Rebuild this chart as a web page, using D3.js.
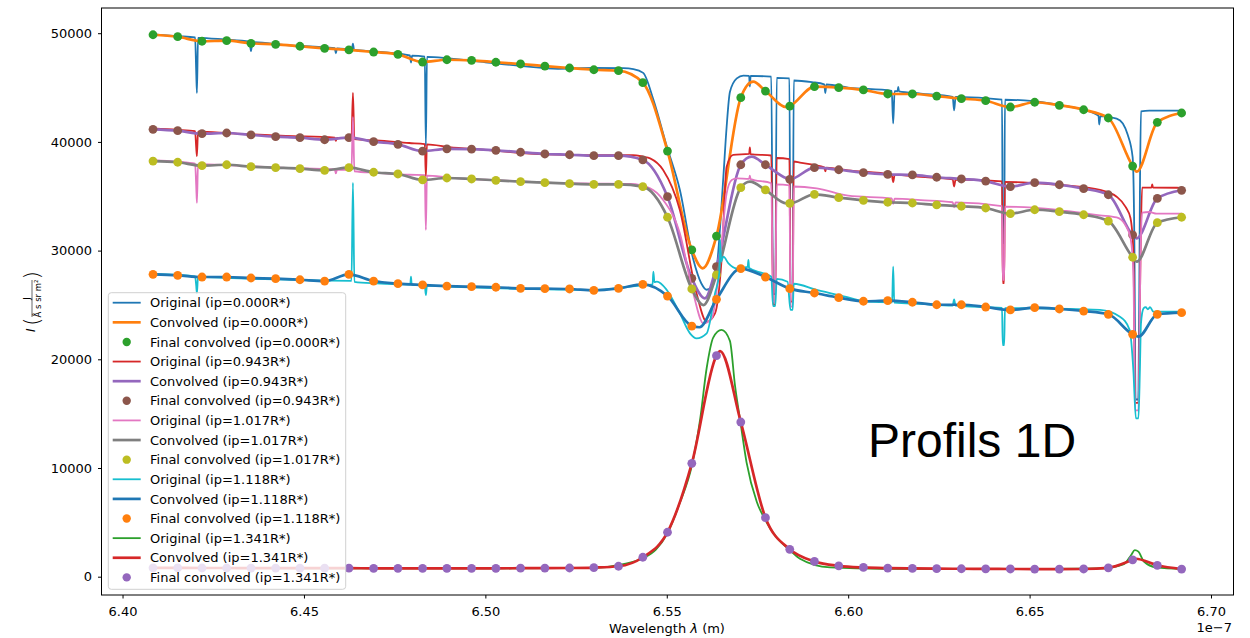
<!DOCTYPE html>
<html>
<head>
<meta charset="utf-8">
<script src="https://cdn.jsdelivr.net/npm/d3@7"></script>
<style>
  body { margin: 0; background: #fff; }
  text { font-family: "DejaVu Sans", sans-serif; }
</style>
</head>
<body>
<svg id="chart" width="1250" height="638"></svg>
<script>
// wavelength grid of the final convolved points (units of 1e-7 m)
const lam = [6.4084, 6.4152, 6.4219, 6.4287, 6.4354, 6.4422, 6.4489, 6.4557, 6.4624, 6.4692,
  6.4759, 6.4827, 6.4894, 6.4962, 6.5029, 6.5097, 6.5164, 6.5232, 6.5299, 6.5367,
  6.5434, 6.5502, 6.5569, 6.5637, 6.5704, 6.5772, 6.5839, 6.5907, 6.5974, 6.6042,
  6.6109, 6.6177, 6.6244, 6.6312, 6.6379, 6.6447, 6.6514, 6.6582, 6.6649, 6.6717,
  6.6784, 6.6852, 6.6919];

const ipValues = ['0.000', '0.943', '1.017', '1.118', '1.341'];

// final convolved values
const finalA = [49860, 49680, 49260, 49310, 49070, 48980, 48800, 48610, 48460, 48270, 48060, 47350, 47560, 47510, 47330, 47170, 46980, 46800, 46640, 46550, 45450, 39160, 30060, 31340, 44070, 44680, 43300, 45080, 44990, 44780, 44410, 44410, 44220, 43980, 43790, 43210, 43650, 43370, 42960, 42200, 37780, 41800, 42660];
const finalB = [41160, 41030, 40760, 40820, 40640, 40480, 40390, 40200, 40390, 40020, 39780, 39150, 39360, 39330, 39230, 39050, 38890, 38820, 38730, 38730, 38340, 34960, 27450, 28520, 37900, 37900, 36560, 37630, 37440, 37170, 37020, 36960, 36750, 36590, 36400, 35880, 36250, 36060, 35700, 35140, 31440, 34800, 35550];
const finalC = [38240, 38130, 37810, 37900, 37720, 37630, 37540, 37390, 37630, 37210, 37050, 36500, 36680, 36590, 36470, 36340, 36250, 36160, 36100, 36100, 35880, 33070, 26470, 27760, 35790, 35580, 34350, 35180, 34870, 34630, 34450, 34380, 34200, 34080, 33920, 33400, 33760, 33580, 33300, 32720, 29390, 32570, 33070];
const finalD = [27820, 27730, 27570, 27570, 27480, 27420, 27320, 27200, 27820, 27200, 26960, 26840, 26740, 26680, 26630, 26530, 26500, 26470, 26350, 26530, 26900, 25820, 23060, 25520, 28340, 27570, 26500, 26100, 25670, 25340, 25390, 25250, 25020, 25020, 24810, 24540, 24750, 24630, 24440, 24140, 22300, 24140, 24290];
const finalE = [820, 810, 800, 800, 790, 790, 780, 780, 780, 770, 770, 770, 770, 770, 770, 780, 790, 800, 840, 960, 1790, 4090, 10430, 20330, 14230, 5430, 2520, 1400, 1000, 850, 790, 760, 740, 730, 720, 710, 700, 700, 710, 820, 1550, 1050, 700];

// convolved curve: extra knots between the final points
const convExtraA = [[6.5599, 28370], [6.5738, 45540], [6.5830, 43200], [6.6795, 37260]];
const convExtraB = [[6.5605, 25610], [6.5734, 38640], [6.5830, 36650], [6.6795, 31130]];
const convExtraC = [[6.5601, 24990], [6.5729, 36340], [6.5830, 34350], [6.6795, 28980]];
const convExtraD = [[6.5590, 22950], [6.6800, 22080]];
const convExtraE = [[6.5647, 20760], [6.6792, 1650]];

// original profiles [wavelength, intensity]
const origA = [[6.4084, 49900], [6.4150, 49730], [6.4200, 49620], [6.4203, 46500], [6.4205, 44500], [6.4208, 49580],
  [6.4280, 49420], [6.4350, 49200], [6.4354, 48350], [6.4358, 49170], [6.4450, 48900], [6.4585, 48620], [6.4588, 48150], [6.4591, 48600],
  [6.4632, 48520], [6.4635, 49050], [6.4638, 48480], [6.4700, 48300], [6.4792, 47950], [6.4795, 47300], [6.4798, 47930],
  [6.4833, 47850], [6.4836, 39600], [6.4839, 47820], [6.4900, 47680], [6.5000, 47330], [6.5100, 46980], [6.5200, 46730],
  [6.5300, 46800], [6.5380, 46780], [6.5408, 46700], [6.5435, 46350], [6.5463, 43900], [6.5500, 39600], [6.5536, 35600],
  [6.5573, 29200], [6.5595, 27000], [6.5610, 26400], [6.5625, 26700], [6.5638, 28500], [6.5656, 36800], [6.5665, 41400],
  [6.5674, 44600], [6.5693, 45850], [6.5711, 46100], [6.5727, 46080], [6.5729, 45100], [6.5731, 46070], [6.5788, 46000],
  [6.5793, 26000], [6.5799, 26000], [6.5803, 45900], [6.5838, 45850], [6.5841, 26500], [6.5847, 26500], [6.5850, 45650],
  [6.5900, 45500], [6.5934, 45300], [6.5937, 44500], [6.5940, 45280], [6.6000, 45000], [6.6120, 44700], [6.6124, 41700],
  [6.6128, 44680], [6.6136, 44660], [6.6138, 45050], [6.6140, 44650], [6.6200, 44450], [6.6288, 44150], [6.6292, 42900],
  [6.6296, 44130], [6.6424, 43900], [6.6426, 30700], [6.6430, 30700], [6.6432, 43880], [6.6510, 43750], [6.6600, 43300],
  [6.6650, 42950], [6.6690, 42400], [6.6692, 41600], [6.6695, 42380], [6.6740, 42150], [6.6757, 41700], [6.6770, 40700],
  [6.6784, 38600], [6.6789, 30000], [6.6792, 16300], [6.6800, 16300], [6.6804, 35000], [6.6807, 42800], [6.6830, 42880], [6.6920, 42870]];
const origB = [[6.4084, 41250], [6.4150, 41120], [6.4200, 40980], [6.4203, 39500], [6.4205, 38700], [6.4208, 40950],
  [6.4300, 40780], [6.4450, 40550], [6.4585, 40400], [6.4588, 40100], [6.4591, 40380], [6.4631, 40320], [6.4635, 44500], [6.4639, 40250],
  [6.4700, 40130], [6.4790, 39900], [6.4833, 39800], [6.4836, 36800], [6.4839, 39780], [6.4900, 39520], [6.5000, 39270],
  [6.5100, 38980], [6.5200, 38830], [6.5300, 38780], [6.5407, 38790], [6.5435, 38640], [6.5454, 38490], [6.5490, 37420],
  [6.5536, 33740], [6.5582, 26070], [6.5610, 23460], [6.5633, 24230], [6.5651, 29140], [6.5665, 37720], [6.5683, 38800],
  [6.5727, 38900], [6.5729, 39500], [6.5731, 38880], [6.5788, 38750], [6.5793, 25000], [6.5799, 25000], [6.5803, 38520],
  [6.5838, 38420], [6.5841, 25300], [6.5847, 25300], [6.5850, 38200], [6.5867, 38090], [6.5934, 37650], [6.5937, 37300],
  [6.5940, 37630], [6.6000, 37380], [6.6120, 36980], [6.6124, 36300], [6.6128, 36960], [6.6200, 36780], [6.6288, 36560],
  [6.6292, 35900], [6.6296, 36540], [6.6424, 36360], [6.6426, 27000], [6.6430, 27000], [6.6432, 36320], [6.6510, 36220],
  [6.6600, 36000], [6.6694, 35580], [6.6740, 34960], [6.6765, 34000], [6.6778, 33000], [6.6786, 30000], [6.6791, 16000],
  [6.6800, 16000], [6.6806, 30000], [6.6810, 35800], [6.6836, 35800], [6.6838, 36100], [6.6840, 35800], [6.6920, 35780]];
const origC = [[6.4084, 38320], [6.4150, 38170], [6.4200, 38000], [6.4203, 36000], [6.4205, 34400], [6.4208, 37960],
  [6.4300, 37850], [6.4450, 37620], [6.4585, 37460], [6.4588, 37100], [6.4591, 37440], [6.4631, 37420], [6.4635, 42300], [6.4639, 37300],
  [6.4700, 37160], [6.4790, 36980], [6.4833, 36950], [6.4836, 31900], [6.4839, 36900], [6.4900, 36720], [6.5000, 36520],
  [6.5100, 36370], [6.5200, 36230], [6.5300, 36170], [6.5399, 36130], [6.5454, 35730], [6.5490, 34660], [6.5536, 31590],
  [6.5573, 26070], [6.5601, 23310], [6.5624, 23770], [6.5647, 29140], [6.5665, 35270], [6.5679, 36500], [6.5693, 36650],
  [6.5727, 36600], [6.5729, 36900], [6.5731, 36580], [6.5788, 36200], [6.5793, 25300], [6.5799, 25300], [6.5803, 36100],
  [6.5838, 36000], [6.5841, 24850], [6.5847, 24850], [6.5850, 35900], [6.5913, 35730], [6.6000, 35050], [6.6120, 34800],
  [6.6124, 34300], [6.6128, 34780], [6.6200, 34650], [6.6288, 34450], [6.6292, 33980], [6.6296, 34430], [6.6424, 34100],
  [6.6426, 27300], [6.6430, 27300], [6.6432, 34050], [6.6510, 33950], [6.6600, 33650], [6.6694, 33250], [6.6740, 33050],
  [6.6765, 32300], [6.6778, 31200], [6.6786, 28000], [6.6791, 15300], [6.6800, 15300], [6.6806, 30000], [6.6810, 33500],
  [6.6830, 33550], [6.6850, 33400], [6.6920, 33400]];
const origD = [[6.4084, 27860], [6.4150, 27760], [6.4200, 27620], [6.4203, 26800], [6.4205, 26070], [6.4208, 27580],
  [6.4300, 27470], [6.4450, 27330], [6.4631, 27220], [6.4635, 36250], [6.4639, 27130], [6.4700, 26980], [6.4793, 26880],
  [6.4795, 27600], [6.4797, 26860], [6.4833, 26800], [6.4836, 25900], [6.4839, 26780], [6.4900, 26680], [6.5000, 26570],
  [6.5100, 26480], [6.5200, 26420], [6.5300, 26380], [6.5399, 26680], [6.5445, 26840], [6.5461, 26900], [6.5463, 28060],
  [6.5466, 27100], [6.5473, 27140], [6.5500, 26380], [6.5536, 24230], [6.5564, 22390], [6.5582, 21930], [6.5610, 22390],
  [6.5633, 26070], [6.5645, 28000], [6.5647, 31000], [6.5650, 29000], [6.5656, 29440], [6.5670, 28830], [6.5693, 28370],
  [6.5723, 28500], [6.5725, 29140], [6.5727, 28400], [6.5766, 27910], [6.5788, 27600], [6.5793, 24900], [6.5799, 24900],
  [6.5803, 27400], [6.5833, 27140], [6.5841, 24540], [6.5847, 24540], [6.5850, 26950], [6.5913, 26380], [6.6000, 25700],
  [6.6051, 25300], [6.6121, 25250], [6.6124, 28520], [6.6127, 25220], [6.6200, 25100], [6.6288, 24950], [6.6292, 25500],
  [6.6296, 24930], [6.6424, 24720], [6.6426, 21300], [6.6430, 21300], [6.6432, 24700], [6.6509, 24690], [6.6694, 24540],
  [6.6749, 23920], [6.6776, 22700], [6.6786, 19000], [6.6793, 14570], [6.6800, 14570], [6.6804, 19000], [6.6807, 23310],
  [6.6814, 24690], [6.6820, 24800], [6.6826, 24600], [6.6832, 24800], [6.6841, 24380], [6.6920, 24380]];
const origE = [[6.4084, 800], [6.4500, 770], [6.5000, 760], [6.5300, 820], [6.5380, 1150], [6.5433, 1700], [6.5470, 2500],
  [6.5501, 3950], [6.5536, 6800], [6.5569, 10200], [6.5592, 14500], [6.5610, 19200], [6.5628, 22000], [6.5651, 22700],
  [6.5674, 21700], [6.5688, 17600], [6.5704, 14000], [6.5720, 10500], [6.5748, 6900], [6.5770, 5300], [6.5803, 3600],
  [6.5839, 2450], [6.5867, 1650], [6.5950, 850], [6.6100, 720], [6.6500, 700], [6.6700, 760], [6.6760, 1150],
  [6.6780, 2000], [6.6790, 2450], [6.6800, 2300], [6.6815, 1400], [6.6850, 850], [6.6920, 700]];

const xTicks = [6.40, 6.45, 6.50, 6.55, 6.60, 6.65, 6.70];
const yTicks = [0, 10000, 20000, 30000, 40000, 50000];

// plot box
const box = {left: 101.5, right: 1233.5, top: 8, bottom: 595};

const x = d3.scaleLinear().domain([6.3942, 6.7062]).range([box.left, box.right]);
const y = d3.scaleLinear().domain([-1684, 52320]).range([box.bottom, box.top]);

const colors = d3.schemeCategory10;

const svg = d3.select('#chart');
svg.append('rect').attr('width', 1250).attr('height', 638).attr('fill', '#fff');

svg.append('clipPath').attr('id', 'clip')
  .append('rect')
  .attr('x', box.left).attr('y', box.top)
  .attr('width', box.right - box.left).attr('height', box.bottom - box.top);

const finals = [finalA, finalB, finalC, finalD, finalE];
const extras = [convExtraA, convExtraB, convExtraC, convExtraD, convExtraE];
const origs = [origA, origB, origC, origD, origE];

const line = d3.line()
  .x(d => x(d[0]))
  .y(d => y(d[1]))
  .curve(d3.curveMonotoneX);

const plot = svg.append('g').attr('clip-path', 'url(#clip)');

const legendItems = [];

ipValues.forEach((ip, k) => {
  const cOrig = colors[(3 * k) % 10];
  const cConv = colors[(3 * k + 1) % 10];
  const cFin = colors[(3 * k + 2) % 10];
  const pts = lam.map((l, i) => [l, finals[k][i]]);
  const conv = pts.concat(extras[k]).sort((a, b) => a[0] - b[0]);

  plot.append('path')
    .attr('d', line(origs[k]))
    .attr('fill', 'none')
    .attr('stroke', cOrig)
    .attr('stroke-width', 1.8)
    .attr('stroke-linejoin', 'round');

  plot.append('path')
    .attr('d', line(conv))
    .attr('fill', 'none')
    .attr('stroke', cConv)
    .attr('stroke-width', 2.7)
    .attr('stroke-linejoin', 'round');

  plot.selectAll(null)
    .data(pts)
    .enter()
    .append('circle')
    .attr('cx', d => x(d[0]))
    .attr('cy', d => y(d[1]))
    .attr('r', 4.4)
    .attr('fill', cFin);

  legendItems.push({label: `Original (ip=${ip}R*)`, color: cOrig, type: 'thin'});
  legendItems.push({label: `Convolved (ip=${ip}R*)`, color: cConv, type: 'thick'});
  legendItems.push({label: `Final convolved (ip=${ip}R*)`, color: cFin, type: 'dot'});
});

// frame
svg.append('rect')
  .attr('x', box.left).attr('y', box.top)
  .attr('width', box.right - box.left).attr('height', box.bottom - box.top)
  .attr('fill', 'none').attr('stroke', '#000').attr('stroke-width', 1);

// axes
const xAxis = svg.append('g')
  .attr('transform', `translate(0, ${box.bottom})`)
  .call(d3.axisBottom(x).tickValues(xTicks).tickFormat(d3.format('.2f')).tickSize(3.5).tickPadding(8).tickSizeOuter(0));
const yAxis = svg.append('g')
  .attr('transform', `translate(${box.left}, 0)`)
  .call(d3.axisLeft(y).tickValues(yTicks).tickFormat(d3.format('d')).tickSize(3.5).tickPadding(6).tickSizeOuter(0));

[xAxis, yAxis].forEach(a => {
  a.select('.domain').remove();
  a.selectAll('text').style('font-size', '13px').attr('fill', '#000').style('font-family', '"DejaVu Sans", sans-serif');
  a.selectAll('line').attr('stroke', '#000');
});

svg.append('text')
  .attr('x', 667).attr('y', 633)
  .attr('text-anchor', 'middle')
  .style('font-size', '13px')
  .html('Wavelength <tspan font-style="italic">λ</tspan> (m)');

svg.append('text')
  .attr('x', 1232).attr('y', 632)
  .attr('text-anchor', 'end')
  .style('font-size', '13px')
  .text('1e\u22127');

// y label: I (J / Å s sr m²), rotated
const yl = svg.append('g').attr('transform', 'rotate(-90)');
yl.append('text').attr('x', -332).attr('y', 35).style('font-size', '12px').style('font-style', 'italic').text('I');
yl.append('text').attr('x', -326).attr('y', 39).attr('transform', 'scale(1,1)').style('font-size', '22px').style('font-weight', '200').text('(');
yl.append('text').attr('x', -298.5).attr('y', 29.5).attr('text-anchor', 'middle').style('font-size', '8.5px').text('J');
yl.append('line').attr('x1', -317).attr('x2', -280).attr('y1', 32).attr('y2', 32).attr('stroke', '#000').attr('stroke-width', 0.6);
yl.append('text').attr('x', -298.5).attr('y', 40.5).attr('text-anchor', 'middle').style('font-size', '8.5px').text('Å s sr m²');
yl.append('text').attr('x', -279.5).attr('y', 39).style('font-size', '22px').style('font-weight', '200').text(')');

// legend
const lg = svg.append('g');
lg.append('rect')
  .attr('x', 108.3).attr('y', 292.7)
  .attr('width', 237.4).attr('height', 296.6)
  .attr('rx', 3)
  .attr('fill', '#fff').attr('fill-opacity', 0.8)
  .attr('stroke', '#d0d0d0').attr('stroke-width', 1);

const rows = lg.selectAll('g.row')
  .data(legendItems)
  .enter()
  .append('g')
  .attr('class', 'row')
  .attr('transform', (d, i) => `translate(0, ${302.7 + i * 19.62})`);

rows.filter(d => d.type !== 'dot')
  .append('line')
  .attr('x1', 112.7).attr('x2', 140.7)
  .attr('stroke', d => d.color)
  .attr('stroke-width', d => d.type === 'thick' ? 2.7 : 1.8);

rows.filter(d => d.type === 'dot')
  .append('circle')
  .attr('cx', 126.7).attr('r', 4.2)
  .attr('fill', d => d.color);

rows.append('text')
  .attr('x', 150)
  .attr('dy', '0.36em')
  .style('font-size', '13px')
  .text(d => d.label);

svg.append('text')
  .attr('x', 868).attr('y', 457)
  .style('font-family', '"Liberation Sans", Arial, sans-serif')
  .style('font-size', '48px')
  .text('Profils 1D');
</script>
</body>
</html>
